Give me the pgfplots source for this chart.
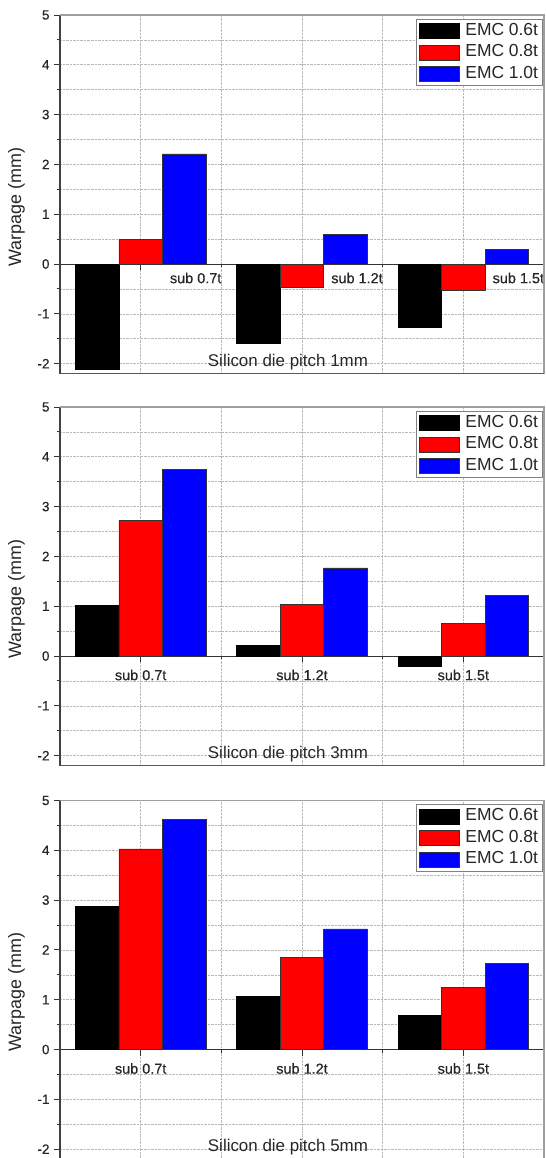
\documentclass[border=0pt]{standalone}
\usepackage{pgfplots}
\pgfplotsset{compat=1.18}
\usepackage{fontspec}
\setmainfont{Liberation Sans}
\newfontfamily\tickfont[FakeBold=0.5]{Liberation Sans}
\definecolor{framegray}{gray}{0.62}
\definecolor{txt}{gray}{0.15}

\pgfplotsset{
 warp/.style={
  scale only axis, width=484bp, height=358.6bp,
  xmin=0.5, xmax=3.5, ymin=-2.2, ymax=5,
  clip=false,
  ybar=0pt, bar width=43.5bp,
  axis x line=middle, axis y line=left,
  axis line style={-},
  x axis line style={black!80, line width=1bp},
  y axis line style={black!75, line width=1.2bp},
  xtick={1,2,3}, xticklabels={sub 0.7t, sub 1.2t, sub 1.5t},
  minor xtick={1.5,2.5},
  ytick={-2,-1,...,5}, minor ytick={-1.5,-0.5,...,4.5},
  grid=both,
  major grid style={densely dotted, gray!55, line width=0.6bp},
  minor grid style={densely dotted, gray!55, line width=0.6bp},
  tick style={black!80, line width=0.9bp},
  major tick length=6bp, minor tick length=3bp,
  tick align=outside,
  /pgf/number format/assume math mode=true,
  yticklabel style={font=\tickfont\fontsize{13.5}{15}\selectfont, text=txt, xshift=-1bp},
  xticklabel style={font=\tickfont\fontsize{14.5}{16}\selectfont, text=txt, anchor=center, yshift=-13bp},
  every axis plot/.append style={line width=0.6bp},
  legend style={at={(rel axis cs:0.997,0.99)}, anchor=north east, draw=gray, line width=1bp, fill=white,
    font=\fontsize{17.5}{20}\selectfont, text=txt, inner xsep=2bp, inner ysep=1bp,
    nodes={inner sep=2bp, text height=13bp, text depth=4.5bp}, cells={anchor=west}},
  legend image code/.code={\draw[#1, line width=0.6bp] (0bp,-7.5bp) rectangle (40bp,7.5bp); \path (44bp,0bp);},
  xlabel style={at={(axis description cs:0.471,0.033)}, anchor=center, font=\fontsize{17}{20}\selectfont, text=txt},
  ylabel style={at={(axis description cs:-0.09,0.465)}, anchor=center, font=\fontsize{18}{20}\selectfont, text=txt},
  ylabel={Warpage (mm)},
 }
}

\begin{document}
\begin{tikzpicture}
\useasboundingbox (0,0) rectangle (546bp,1158bp);

% Panel 1
\begin{axis}[warp, at={(60bp,1143bp)}, anchor=north west,
  xlabel={Silicon die pitch 1mm},
  xticklabel style={xshift=55bp, yshift=5bp}]
\addplot[fill=black, draw=black] coordinates {(1,-2.12) (2,-1.6) (3,-1.28)};
\addplot[fill=red, draw=black!80] coordinates {(1,0.5) (2,-0.46) (3,-0.52)};
\addplot[fill=blue, draw=black!80] coordinates {(1,2.21) (2,0.6) (3,0.3)};
\legend{EMC 0.6t, EMC 0.8t, EMC 1.0t}
\draw[framegray, line width=1.5bp] (rel axis cs:0,1) -- (rel axis cs:1,1) -- (rel axis cs:1,0);
\draw[black!65, line width=1.2bp] (rel axis cs:0,0) -- (rel axis cs:1,0);
\end{axis}

% Panel 2
\begin{axis}[warp, at={(60bp,751bp)}, anchor=north west,
  xlabel={Silicon die pitch 3mm}]
\addplot[fill=black, draw=black] coordinates {(1,1.02) (2,0.21) (3,-0.21)};
\addplot[fill=red, draw=black!80] coordinates {(1,2.73) (2,1.04) (3,0.66)};
\addplot[fill=blue, draw=black!80] coordinates {(1,3.74) (2,1.77) (3,1.21)};
\legend{EMC 0.6t, EMC 0.8t, EMC 1.0t}
\draw[framegray, line width=1.5bp] (rel axis cs:0,1) -- (rel axis cs:1,1) -- (rel axis cs:1,0);
\draw[black!65, line width=1.2bp] (rel axis cs:0,0) -- (rel axis cs:1,0);
\end{axis}

% Panel 3
\begin{axis}[warp, at={(60bp,357.5bp)}, anchor=north west,
  xlabel={Silicon die pitch 5mm}]
\addplot[fill=black, draw=black] coordinates {(1,2.88) (2,1.07) (3,0.69)};
\addplot[fill=red, draw=black!80] coordinates {(1,4.03) (2,1.85) (3,1.25)};
\addplot[fill=blue, draw=black!80] coordinates {(1,4.62) (2,2.42) (3,1.73)};
\legend{EMC 0.6t, EMC 0.8t, EMC 1.0t}
\draw[framegray, line width=1.5bp] (rel axis cs:0,1) -- (rel axis cs:1,1) -- (rel axis cs:1,0);
\draw[black!65, line width=1.2bp] (rel axis cs:0,0) -- (rel axis cs:1,0);
\end{axis}
\end{tikzpicture}
\end{document}
